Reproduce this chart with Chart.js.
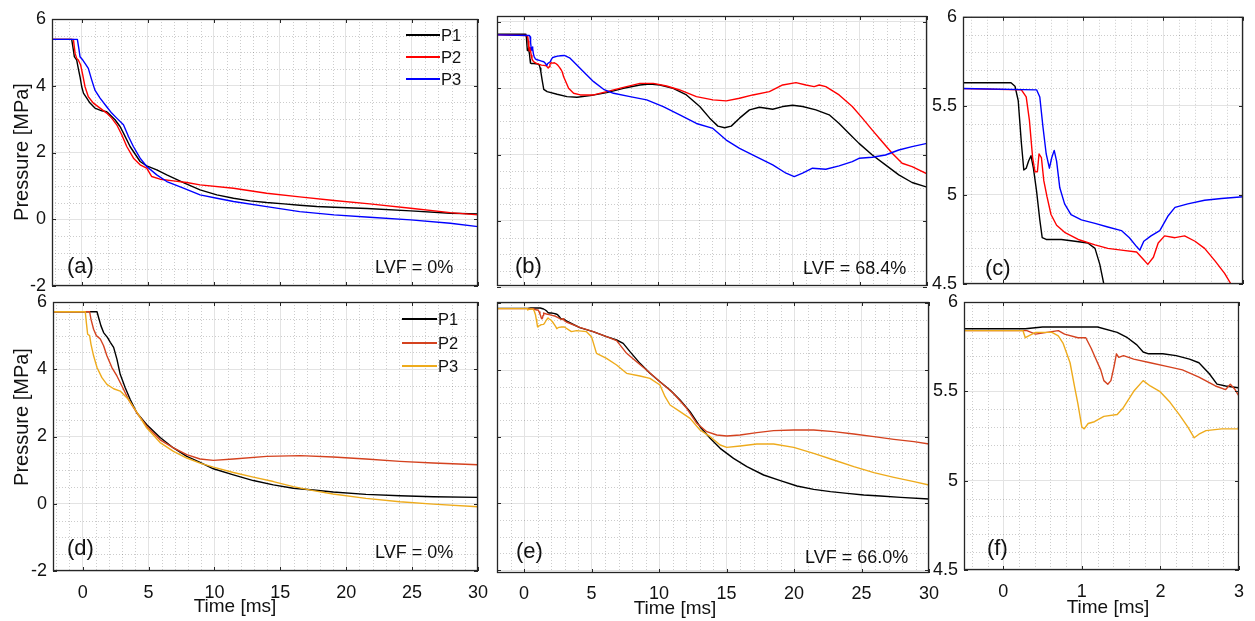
<!DOCTYPE html>
<html>
<head>
<meta charset="utf-8">
<title>Pressure histories P1–P3</title>
<script src="https://cdn.jsdelivr.net/npm/chart.js@4.4.1/dist/chart.umd.min.js"></script>
<style>
  html, body { margin: 0; padding: 0; background: #fff; }
  #fig { position: relative; width: 1255px; height: 621px; overflow: hidden;
         font-family: "Liberation Sans", Arial, Helvetica, sans-serif; color: #111; }
  #fig canvas { position: absolute; left: 0; top: 0; }
  .lbl { position: absolute; white-space: nowrap; line-height: 1; }
  .key { position: absolute; height: 2px; }
</style>
</head>
<body>
<div id="fig"></div>
<script>
// ---------- tick values ----------
const wideTimeTicks = [0, 5, 10, 15, 20, 25, 30];       // ms
const zoomTimeTicks = [0, 1, 2, 3];                      // ms
const pressureTicks = [-2, 0, 2, 4, 6];                  // MPa
const zoomPressureTicks = [4.5, 5, 5.5, 6];              // MPa

// ---------- (a) LVF = 0 %, first test ----------
const aTimeP1 = [-2.25, -0.76, -0.63, -0.56, -0.38, -0.26, -0.13, 0, 0.13, 0.38, 0.63, 1.0, 1.52, 1.89, 2.14, 2.52, 2.9, 3.16, 3.66, 4.42, 4.92, 5.68, 6.44, 7.7, 8.96, 10.23, 11.49, 12.75, 14.0, 15.3, 16.5, 17.8, 19.1, 21.6, 24.9, 27.9, 30];
const aP1 = [5.39, 5.39, 5.07, 4.87, 4.77, 4.52, 4.27, 3.97, 3.78, 3.63, 3.48, 3.33, 3.25, 3.22, 3.13, 2.98, 2.78, 2.58, 2.18, 1.73, 1.6, 1.48, 1.33, 1.1, 0.88, 0.73, 0.63, 0.55, 0.5, 0.46, 0.42, 0.38, 0.36, 0.32, 0.25, 0.18, 0.16];

const aTimeP2 = [-2.25, -0.63, -0.5, -0.38, -0.26, -0.08, 0.08, 0.25, 0.5, 0.88, 1.39, 1.89, 2.27, 2.65, 3.03, 3.41, 3.92, 4.42, 4.92, 5.3, 5.93, 6.94, 7.95, 8.96, 11.49, 14.0, 16.5, 19.1, 21.8, 24.9, 27.9, 30];
const aP2 = [5.39, 5.39, 4.97, 4.82, 4.77, 4.62, 4.32, 3.97, 3.67, 3.48, 3.33, 3.18, 3.03, 2.83, 2.53, 2.18, 1.83, 1.63, 1.53, 1.28, 1.2, 1.15, 1.1, 1.03, 0.93, 0.78, 0.67, 0.56, 0.46, 0.33, 0.2, 0.13];

const aTimeP3 = [-2.25, -0.33, -0.2, -0.13, 0.08, 0.25, 0.5, 0.76, 1.0, 1.39, 1.89, 2.27, 2.65, 3.16, 3.54, 3.91, 4.42, 4.92, 5.68, 6.44, 7.7, 8.96, 10.23, 11.49, 14.0, 16.5, 19.1, 21.8, 24.9, 27.9, 30];
const aP3 = [5.39, 5.39, 5.07, 4.87, 4.77, 4.67, 4.52, 4.17, 3.87, 3.63, 3.37, 3.18, 3.03, 2.83, 2.48, 2.18, 1.83, 1.58, 1.33, 1.13, 0.93, 0.73, 0.63, 0.53, 0.38, 0.23, 0.13, 0.06, -0.02, -0.12, -0.22];

// ---------- (b) and its close-up (c): LVF = 68.4 % ----------
const bTimeP1 = [-2, 0.1, 0.15, 0.19, 0.23, 0.26, 0.29, 0.32, 0.35, 0.38, 0.42, 0.46, 0.49, 0.54, 0.73, 0.9, 1.06, 1.15, 1.21, 1.26, 1.36, 1.48, 1.73, 2.47, 3.21, 3.95, 4.94, 6.17, 7.41, 8.64, 9.38, 10.12, 11.11, 12.1, 13.09, 13.83, 14.44, 14.94, 15.43, 16.05, 16.79, 17.53, 18.52, 19.26, 20.0, 20.74, 21.73, 22.72, 23.46, 24.2, 24.94, 25.93, 26.91, 27.9, 28.89, 30];
const bP1 = [5.63, 5.63, 5.61, 5.53, 5.29, 5.14, 5.15, 5.19, 5.22, 5.15, 5.02, 4.86, 4.76, 4.75, 4.75, 4.74, 4.73, 4.70, 4.61, 4.50, 4.25, 3.97, 3.9, 3.82, 3.75, 3.73, 3.78, 3.87, 4.0, 4.1, 4.13, 4.1, 4.0, 3.8, 3.45, 3.1, 2.86, 2.81, 2.86, 3.1, 3.35, 3.43, 3.37, 3.45, 3.49, 3.45, 3.35, 3.2, 2.94, 2.64, 2.34, 1.99, 1.69, 1.39, 1.16, 1.02];

const bTimeP2 = [-2, 0.23, 0.29, 0.33, 0.37, 0.40, 0.43, 0.45, 0.48, 0.51, 0.55, 0.60, 0.67, 0.77, 0.94, 1.15, 1.31, 1.48, 1.67, 1.75, 1.81, 1.88, 1.94, 2.02, 2.15, 2.27, 2.4, 2.52, 2.65, 2.77, 2.85, 2.96, 3.33, 3.7, 4.2, 5.19, 6.17, 7.41, 8.64, 9.63, 10.62, 11.6, 12.84, 14.07, 15.06, 16.05, 17.04, 18.27, 19.26, 20.25, 20.99, 21.6, 21.98, 22.47, 23.46, 24.44, 25.19, 25.93, 26.67, 27.41, 28.15, 28.89, 30];
const bP2 = [5.61, 5.59, 5.55, 5.42, 5.21, 5.13, 5.13, 5.23, 5.21, 5.08, 4.99, 4.89, 4.83, 4.79, 4.75, 4.72, 4.70, 4.69, 4.68, 4.64, 4.61, 4.65, 4.73, 4.77, 4.76, 4.77, 4.74, 4.70, 4.63, 4.56, 4.50, 4.35, 4.0, 3.85, 3.8, 3.8, 3.9, 4.03, 4.15, 4.15, 4.07, 3.95, 3.75, 3.65, 3.62, 3.7, 3.8, 3.9, 4.1, 4.17, 4.1, 4.05, 4.1, 4.05, 3.8, 3.45, 3.1, 2.74, 2.39, 2.04, 1.74, 1.64, 1.42];

const bTimeP3 = [-2, 0.42, 0.46, 0.50, 0.54, 0.58, 0.61, 0.64, 0.67, 0.71, 0.77, 0.85, 0.98, 1.15, 1.31, 1.48, 1.58, 1.67, 1.71, 1.76, 1.85, 1.96, 2.06, 2.15, 2.31, 2.52, 2.73, 3.01, 3.4, 3.7, 4.44, 5.19, 5.93, 6.67, 7.9, 9.14, 10.37, 11.6, 12.84, 14.07, 15.06, 16.05, 17.28, 18.52, 19.51, 20.12, 20.74, 21.48, 22.47, 23.46, 24.44, 24.94, 25.93, 26.91, 27.9, 28.89, 30];
const bP3 = [5.61, 5.59, 5.55, 5.38, 5.23, 5.15, 5.21, 5.25, 5.19, 5.04, 4.95, 4.89, 4.86, 4.84, 4.82, 4.80, 4.76, 4.71, 4.69, 4.74, 4.77, 4.80, 4.88, 4.93, 4.95, 4.97, 4.98, 4.99, 4.92, 4.8, 4.5, 4.2, 3.97, 3.85, 3.75, 3.65, 3.45, 3.2, 2.94, 2.79, 2.44, 2.19, 1.94, 1.69, 1.44, 1.34, 1.44, 1.59, 1.56, 1.66, 1.79, 1.89, 1.92, 1.99, 2.14, 2.24, 2.34];

// ---------- (d) LVF = 0 %, second test ----------
const dTimeP1 = [-2.25, 1.09, 1.21, 1.39, 1.59, 1.89, 2.1, 2.35, 2.6, 2.85, 3.23, 3.61, 4.12, 4.87, 5.88, 6.89, 7.9, 8.91, 9.92, 11.44, 12.95, 14.47, 15.98, 17.5, 19.0, 21.5, 24.07, 26.6, 30];
const dP1 = [5.71, 5.71, 5.54, 5.29, 5.09, 4.94, 4.8, 4.65, 4.3, 3.85, 3.45, 3.1, 2.7, 2.35, 1.97, 1.66, 1.41, 1.23, 1.04, 0.86, 0.69, 0.56, 0.46, 0.41, 0.35, 0.28, 0.24, 0.21, 0.19];

const dTimeP2 = [-2.25, 0.53, 0.63, 0.83, 1.04, 1.34, 1.59, 1.84, 2.22, 2.6, 2.98, 3.48, 4.12, 4.87, 5.88, 6.89, 7.9, 8.91, 9.92, 11.44, 13.96, 16.5, 19.0, 21.5, 24.07, 26.6, 30];
const dP2 = [5.71, 5.71, 5.49, 5.19, 5.0, 4.9, 4.7, 4.4, 4.05, 3.8, 3.5, 3.1, 2.7, 2.3, 1.9, 1.66, 1.46, 1.33, 1.29, 1.33, 1.41, 1.43, 1.39, 1.33, 1.26, 1.21, 1.16];

const dTimeP3 = [-2.25, 0.2, 0.28, 0.38, 0.53, 0.63, 0.83, 1.09, 1.46, 1.84, 2.35, 2.85, 3.48, 4.12, 4.87, 5.88, 6.89, 7.9, 8.91, 9.92, 11.44, 12.95, 14.47, 15.98, 17.5, 19.0, 21.5, 24.07, 26.6, 30];
const dP3 = [5.71, 5.71, 5.39, 5.04, 5.0, 4.75, 4.4, 4.05, 3.75, 3.55, 3.42, 3.35, 3.1, 2.72, 2.25, 1.82, 1.56, 1.36, 1.21, 1.09, 0.93, 0.79, 0.66, 0.51, 0.39, 0.29, 0.16, 0.06, -0.01, -0.09];

// ---------- (e) and its close-up (f): LVF = 66.0 % ----------
const eTimeP1 = [-2, 0.28, 0.5, 0.8, 1.2, 1.45, 1.58, 1.7, 1.78, 1.85, 2.03, 2.2, 2.37, 2.49, 2.62, 2.72, 2.83, 2.99, 3.14, 4.13, 5.12, 6.11, 6.86, 7.35, 7.85, 8.59, 9.33, 10.07, 10.82, 11.56, 12.3, 13.04, 13.79, 14.53, 15.52, 16.51, 17.75, 18.99, 20.22, 21.46, 22.7, 23.94, 25.17, 26.41, 27.9, 30];
const eP1 = [5.85, 5.85, 5.86, 5.86, 5.86, 5.83, 5.8, 5.76, 5.72, 5.71, 5.71, 5.7, 5.68, 5.66, 5.6, 5.54, 5.53, 5.52, 5.47, 5.27, 5.15, 5.0, 4.9, 4.8, 4.55, 4.2, 3.9, 3.65, 3.4, 3.1, 2.75, 2.3, 1.95, 1.65, 1.35, 1.1, 0.85, 0.68, 0.52, 0.42, 0.35, 0.3, 0.25, 0.22, 0.18, 0.13];

const eTimeP2 = [-2, 0.3, 0.41, 0.7, 0.78, 0.95, 1.05, 1.12, 1.18, 1.24, 1.28, 1.33, 1.37, 1.41, 1.44, 1.47, 1.53, 1.66, 1.87, 2.08, 2.28, 2.49, 2.7, 2.83, 2.89, 2.95, 2.99, 3.14, 4.13, 5.12, 6.11, 6.86, 7.6, 8.34, 9.08, 10.07, 11.06, 12.05, 12.8, 13.54, 14.28, 15.02, 16.01, 17.25, 18.49, 19.98, 21.46, 22.95, 24.43, 25.92, 27.4, 28.89, 30];
const eP2 = [5.84, 5.84, 5.82, 5.84, 5.82, 5.8, 5.8, 5.74, 5.68, 5.62, 5.56, 5.54, 5.56, 5.64, 5.71, 5.69, 5.7, 5.68, 5.66, 5.64, 5.62, 5.58, 5.53, 5.51, 5.54, 5.51, 5.48, 5.44, 5.28, 5.15, 5.0, 4.88, 4.5, 4.25, 4.0, 3.65, 3.3, 2.85, 2.4, 2.15, 2.05, 2.02, 2.05, 2.12, 2.18, 2.2, 2.2, 2.15, 2.08, 2.0, 1.92, 1.85, 1.78];

const eTimeP3 = [-2, 0.25, 0.28, 0.41, 0.62, 0.7, 0.76, 0.85, 0.91, 0.95, 1.0, 1.03, 1.08, 1.16, 1.28, 1.45, 1.53, 1.66, 1.78, 1.87, 1.99, 2.12, 2.24, 2.35, 2.43, 2.49, 2.58, 2.78, 2.99, 3.51, 3.9, 4.63, 5.0, 5.37, 6.11, 6.86, 7.6, 8.59, 9.33, 10.07, 10.45, 10.82, 11.56, 12.3, 13.04, 13.79, 14.53, 15.02, 16.01, 17.25, 18.49, 19.98, 21.46, 22.95, 24.43, 25.92, 27.4, 28.89, 30];
const eP3 = [5.84, 5.84, 5.8, 5.83, 5.83, 5.81, 5.77, 5.66, 5.52, 5.43, 5.3, 5.29, 5.32, 5.33, 5.36, 5.37, 5.41, 5.5, 5.56, 5.53, 5.5, 5.44, 5.37, 5.3, 5.24, 5.26, 5.28, 5.29, 5.29, 5.15, 5.18, 5.15, 5.0, 4.5, 4.35, 4.15, 3.9, 3.82, 3.75, 3.55, 3.2, 2.95, 2.75, 2.55, 2.2, 2.0, 1.75, 1.68, 1.72, 1.78, 1.78, 1.68, 1.5, 1.3, 1.1, 0.92, 0.78, 0.65, 0.55];

// ---------- styling ----------
const FONT = '"Liberation Sans", Arial, Helvetica, sans-serif';
const TEXT = '#111111';
const FRAME = '#262626';
const MAJOR_GRID = '#e3e3e3';
const MINOR_GRID = 'rgba(0,0,0,0.2)';
const TOP_COLORS = ['#000000', '#ff0000', '#0000ff'];
const BOTTOM_COLORS = ['#000000', '#d4421f', '#eeab1c'];
const W = 1255, H = 621;

function toPoints(t, v) { return t.map((x, i) => ({ x: x, y: v[i] })); }

function trace(t, v, color, label, order) {
  return {
    label: label, data: toPoints(t, v), borderColor: color, backgroundColor: color,
    borderWidth: 1.4, pointRadius: 0, pointHoverRadius: 0, tension: 0, fill: false,
    borderJoinStyle: 'round', order: order
  };
}

// minor dotted grid, boxed frame and inward tick marks
const panelDecor = {
  id: 'panelDecor',
  beforeDatasetsDraw(chart, _args, opts) {
    const { ctx, chartArea: a, scales: { x, y } } = chart;
    const mx = x.ticks.map(t => t.value), my = y.ticks.map(t => t.value);
    const isMajor = (arr, v) => arr.some(m => Math.abs(m - v) < 1e-6);
    ctx.save();
    ctx.strokeStyle = MINOR_GRID; ctx.lineWidth = 1; ctx.setLineDash([1, 2]);
    ctx.beginPath();
    for (let k = Math.ceil(x.min / opts.xMinor - 1e-9); k * opts.xMinor <= x.max + 1e-9; k++) {
      const v = +(k * opts.xMinor).toFixed(6);
      if (isMajor(mx, v)) continue;
      const px = Math.round(x.getPixelForValue(v)) + 0.5;
      if (px <= a.left + 1 || px >= a.right - 1) continue;
      ctx.moveTo(px, a.top); ctx.lineTo(px, a.bottom);
    }
    for (let k = Math.ceil(y.min / opts.yMinor - 1e-9); k * opts.yMinor <= y.max + 1e-9; k++) {
      const v = +(k * opts.yMinor).toFixed(6);
      if (isMajor(my, v)) continue;
      const py = Math.round(y.getPixelForValue(v)) + 0.5;
      if (py <= a.top + 1 || py >= a.bottom - 1) continue;
      ctx.moveTo(a.left, py); ctx.lineTo(a.right, py);
    }
    ctx.stroke();
    ctx.restore();
  },
  afterDatasetsDraw(chart) {
    const { ctx, chartArea: a, scales: { x, y } } = chart;
    ctx.save();
    ctx.setLineDash([]);
    ctx.strokeStyle = FRAME; ctx.lineWidth = 1;
    ctx.beginPath();
    const tl = 4;
    x.ticks.forEach(t => {
      const px = Math.round(x.getPixelForValue(t.value)) + 0.5;
      ctx.moveTo(px, a.bottom); ctx.lineTo(px, a.bottom - tl);
      ctx.moveTo(px, a.top); ctx.lineTo(px, a.top + tl);
    });
    y.ticks.forEach(t => {
      const py = Math.round(y.getPixelForValue(t.value)) + 0.5;
      ctx.moveTo(a.left, py); ctx.lineTo(a.left + tl, py);
      ctx.moveTo(a.right, py); ctx.lineTo(a.right - tl, py);
    });
    ctx.stroke();
    ctx.lineWidth = 1.3;
    ctx.strokeRect(a.left + 0.5, a.top + 0.5, a.right - a.left - 1, a.bottom - a.top - 1);
    ctx.restore();
  }
};

const panels = [
  { area: [52, 19, 478, 286], x: [-2.25, 30], y: [-2, 6], xt: wideTimeTicks, yt: pressureTicks,
    xLab: false, yLab: true, xMinor: 1, yMinor: 0.5, colors: TOP_COLORS,
    traces: [[aTimeP1, aP1], [aTimeP2, aP2], [aTimeP3, aP3]] },
  { area: [497, 16, 927, 286], x: [-2, 30], y: [-1.96, 6.18], xt: wideTimeTicks, yt: pressureTicks,
    xLab: false, yLab: false, xMinor: 1, yMinor: 0.5, colors: TOP_COLORS,
    traces: [[bTimeP1, bP1], [bTimeP2, bP2], [bTimeP3, bP3]] },
  { area: [963, 16, 1243, 284], x: [-0.5, 3], y: [4.5, 6], xt: zoomTimeTicks, yt: zoomPressureTicks,
    xLab: false, yLab: true, xMinor: 0.2, yMinor: 0.1, colors: TOP_COLORS,
    traces: [[bTimeP1, bP1], [bTimeP2, bP2], [bTimeP3, bP3]] },
  { area: [53, 302, 478, 571], x: [-2.25, 30], y: [-2, 6], xt: wideTimeTicks, yt: pressureTicks,
    xLab: true, xPad: 11, yLab: true, xMinor: 1, yMinor: 0.5, colors: BOTTOM_COLORS,
    traces: [[dTimeP1, dP1], [dTimeP2, dP2], [dTimeP3, dP3]] },
  { area: [497, 302, 929, 573], x: [-2, 30], y: [-2.09, 6.04], xt: wideTimeTicks, yt: pressureTicks,
    xLab: true, xPad: 10, yLab: false, xMinor: 1, yMinor: 0.5, colors: BOTTOM_COLORS,
    traces: [[eTimeP1, eP1], [eTimeP2, eP2], [eTimeP3, eP3]] },
  { area: [964, 302, 1243, 570], x: [-0.5, 3], y: [4.5, 6], xt: zoomTimeTicks, yt: zoomPressureTicks,
    xLab: true, xPad: 11, yLab: true, xMinor: 0.2, yMinor: 0.1, colors: BOTTOM_COLORS,
    traces: [[eTimeP1, eP1], [eTimeP2, eP2], [eTimeP3, eP3]] }
];

const fig = document.getElementById('fig');
const names = ['P1', 'P2', 'P3'];

panels.forEach(p => {
  const cv = document.createElement('canvas');
  cv.width = W; cv.height = H;
  fig.appendChild(cv);
  const yW = p.yLab ? 40 : 0;
  const xH = p.xLab ? 34 : 0;
  const tickFont = { family: FONT, size: 18 };
  new Chart(cv, {
    type: 'line',
    data: {
      datasets: p.traces.map((tr, i) => trace(tr[0], tr[1], p.colors[i], names[i], 2 - i))
    },
    options: {
      responsive: false, animation: false, events: [],
      layout: { padding: { left: p.area[0] - yW, top: p.area[1], right: W - p.area[2], bottom: H - p.area[3] - xH } },
      plugins: {
        legend: { display: false }, tooltip: { enabled: false },
        panelDecor: { xMinor: p.xMinor, yMinor: p.yMinor }
      },
      scales: {
        x: {
          type: 'linear', min: p.x[0], max: p.x[1],
          afterBuildTicks: s => { s.ticks = p.xt.map(v => ({ value: v })); },
          afterFit: s => { s.height = xH; },
          grid: { color: MAJOR_GRID, lineWidth: 1, drawTicks: false },
          border: { display: false },
          ticks: { display: p.xLab, padding: p.xPad || 11, font: tickFont, color: TEXT,
                   maxRotation: 0, autoSkip: false, callback: v => String(v) }
        },
        y: {
          type: 'linear', min: p.y[0], max: p.y[1],
          afterBuildTicks: s => { s.ticks = p.yt.map(v => ({ value: v })); },
          afterFit: s => { s.width = yW; },
          grid: { color: MAJOR_GRID, lineWidth: 1, drawTicks: false },
          border: { display: false },
          ticks: { display: p.yLab, padding: 6, font: tickFont, color: TEXT,
                   autoSkip: false, callback: v => String(v) }
        }
      }
    },
    plugins: [panelDecor]
  });
});

// ---------- text: titles, panel tags, LVF notes ----------
// baseline = y of the text baseline; the line box puts it 0.8465 em below the top
function addText(str, x, baseline, size, align) {
  const d = document.createElement('div');
  d.className = 'lbl';
  d.textContent = str;
  d.style.fontSize = size + 'px';
  d.style.top = (baseline - 0.8465 * size) + 'px';
  d.style.left = x + 'px';
  if (align === 'center') d.style.transform = 'translateX(-50%)';
  fig.appendChild(d);
}
function addVerticalTitle(str, cx, cy, size) {
  const d = document.createElement('div');
  d.className = 'lbl';
  d.textContent = str;
  d.style.fontSize = size + 'px';
  d.style.left = cx + 'px';
  d.style.top = (cy - size / 2) + 'px';
  d.style.transform = 'translateX(-50%) rotate(-90deg)';
  d.style.transformOrigin = '50% 50%';
  fig.appendChild(d);
}

addVerticalTitle('Pressure [MPa]', 21, 152, 20);
addVerticalTitle('Pressure [MPa]', 21, 417, 20);

addText('Time [ms]', 235, 612, 19, 'center');
addText('Time [ms]', 675, 614, 19, 'center');
addText('Time [ms]', 1108, 613, 19, 'center');

addText('(a)', 67, 274, 22);
addText('(b)', 515, 274, 22);
addText('(c)', 985, 276, 22);
addText('(d)', 67, 556, 22);
addText('(e)', 516, 559, 22);
addText('(f)', 987, 556, 22);

addText('LVF = 0%', 375, 273, 18);
addText('LVF = 68.4%', 803, 274, 18);
addText('LVF = 0%', 375, 558, 18);
addText('LVF = 66.0%', 805, 563, 18);

// ---------- legends ----------
// rows = integer pixel row of each key line
function addLegend(lineX, lineW, textX, rows, colors) {
  rows.forEach((r, i) => {
    const k = document.createElement('div');
    k.className = 'key';
    k.style.left = lineX + 'px';
    k.style.width = lineW + 'px';
    k.style.top = r + 'px';
    k.style.backgroundColor = colors[i];
    fig.appendChild(k);
    addText(names[i], textX, r + 7, 16.5);
  });
}
addLegend(406, 34, 441, [34, 56, 78], TOP_COLORS);
addLegend(402, 35, 438, [318, 342, 365], BOTTOM_COLORS);
</script>
</body>
</html>
